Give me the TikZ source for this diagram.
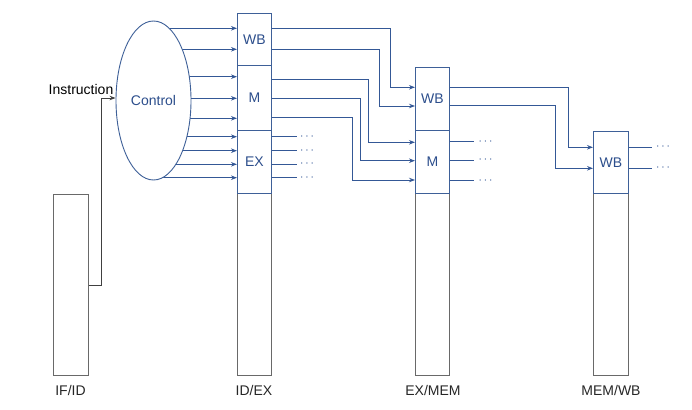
\documentclass[tikz,border=0pt]{standalone}
\usepackage{fontspec}
\setmainfont{Liberation Sans}
\usetikzlibrary{arrows.meta,shapes.geometric}
\definecolor{sigblue}{RGB}{52,88,150}
\definecolor{boxblue}{RGB}{62,96,152}
\definecolor{txtblue}{RGB}{44,78,140}
\definecolor{regray}{RGB}{105,105,105}
\pgfdeclarelayer{bg}
\pgfsetlayers{bg,main}
\begin{document}
\begin{tikzpicture}[x=1pt,y=-1pt,
  font=\fontsize{14}{16}\selectfont,
  regbox/.style={draw=boxblue,line width=0.9pt,fill=white,inner sep=0pt,anchor=north west,text=txtblue},
  lowbox/.style={draw=regray,line width=0.9pt,inner sep=0pt,anchor=north west},
  sig/.style={draw=sigblue,line width=0.9pt},
  sigarr/.style={sig,-{Stealth[length=6pt,width=4.5pt]}},
  dotsn/.style={text=sigblue,inner sep=0pt,font=\fontsize{13}{14}\selectfont},
  lbl/.style={text=black!85,inner sep=0pt}]
\useasboundingbox (0,0) rectangle (692,409);

% lower parts of the pipeline registers
\node[lowbox,minimum width=35pt,minimum height=181pt] (ifid) at (53,194) {};
\node[lowbox,minimum width=34pt,minimum height=182pt] (idexlow) at (237,193) {};
\node[lowbox,minimum width=34pt,minimum height=182pt] (exmemlow) at (415,193) {};
\node[lowbox,minimum width=35pt,minimum height=182pt] (memwblow) at (593,193) {};

% control sections
\node[regbox,minimum width=34pt,minimum height=52pt] (idexwb) at (237,13) {WB};
\node[regbox,minimum width=34pt,minimum height=65pt] (idexm) at (237,65) {M};
\node[regbox,minimum width=34pt,minimum height=63pt] (idexex) at (237,130) {EX};
\node[regbox,minimum width=34pt,minimum height=63pt] (exmemwb) at (415,67) {WB};
\node[regbox,minimum width=34pt,minimum height=63pt] (exmemm) at (415,130) {M};
\node[regbox,minimum width=35pt,minimum height=62pt] (memwbwb) at (593,131) {WB};

% control unit
\node[draw=boxblue,line width=0.9pt,fill=white,ellipse,minimum width=75pt,minimum height=159pt,inner sep=0pt,text=txtblue] (ctrl) at (153.5,100.5) {Control};

% labels
\node[lbl] (lifid) at (70.5,390) {IF/ID};
\node[lbl] (lidex) at (254,390) {ID/EX};
\node[lbl] (lexmem) at (433,390) {EX/MEM};
\node[lbl] (lmemwb) at (611,390) {MEM/WB};
\node[lbl,text=black] (linstr) at (81,89) {Instruction};

% instruction wire
\coordinate (ibend) at (101,98);
\draw[draw=black!75,line width=0.9pt,-{Stealth[length=6pt,width=4.5pt]}] (ifid.east |- 0,285) -| (ibend) -- (ctrl.west |- ibend);

% control outputs into ID/EX
\begin{pgfonlayer}{bg}
\foreach \yy in {28.3,49.3,76.7,98.3,118.3,136.7,150.7,164.3,177.7}{
  \draw[sigarr] (ctrl.center |- 0,\yy) -- (idexwb.west |- 0,\yy);
}
\end{pgfonlayer}

% ID/EX -> EX/MEM
\draw[sigarr] (idexwb.east |- 0,28.3) -| (390,87.3) -- (exmemwb.west |- 0,87.3);
\draw[sigarr] (idexwb.east |- 0,49.3) -| (379.3,106) -- (exmemwb.west |- 0,106);
\draw[sigarr] (idexm.east |- 0,79) -| (368.3,142.3) -- (exmemm.west |- 0,142.3);
\draw[sigarr] (idexm.east |- 0,98.7) -| (360.7,160.7) -- (exmemm.west |- 0,160.7);
\draw[sigarr] (idexm.east |- 0,117.3) -| (352.7,180) -- (exmemm.west |- 0,180);

% EX outputs
\foreach \yy/\nm in {136.7/a,150.7/b,164.3/c,177.7/d}{
  \node[dotsn] (exd\nm) at (307,\yy) {$\cdots$};
  \draw[sig] (idexex.east |- 0,\yy) -- (296.7,\yy);
}

% EX/MEM -> MEM/WB
\draw[sigarr] (exmemwb.east |- 0,87.3) -| (568.3,147.3) -- (memwbwb.west |- 0,147.3);
\draw[sigarr] (exmemwb.east |- 0,105) -| (555.7,168.3) -- (memwbwb.west |- 0,168.3);

% M outputs
\foreach \yy/\nm in {141.7/a,160/b,180.7/c}{
  \node[dotsn] (md\nm) at (485.5,\yy) {$\cdots$};
  \draw[sig] (exmemm.east |- 0,\yy) -- (474,\yy);
}

% WB outputs
\foreach \yy/\nm in {147.3/a,168.3/b}{
  \node[dotsn] (wd\nm) at (663,\yy) {$\cdots$};
  \draw[sig] (memwbwb.east |- 0,\yy) -- (651.7,\yy);
}
\end{tikzpicture}
\end{document}
